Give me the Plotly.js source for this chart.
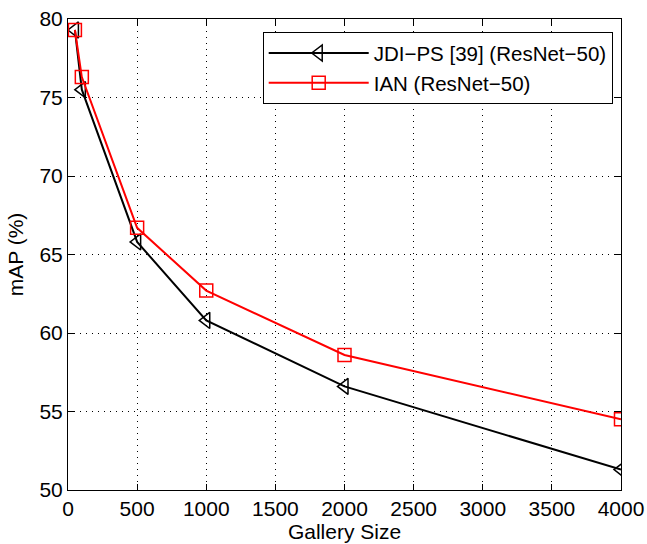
<!DOCTYPE html>
<html>
<head>
<meta charset="utf-8">
<script src="https://cdn.plot.ly/plotly-3.0.1.min.js"></script>
<style>html,body{margin:0;padding:0;background:#fff;}#chart{width:647px;height:544px;}</style>
</head>
<body>
<div id="chart"></div>
<script>
const gallerySize = [50, 100, 500, 1000, 2000, 4000];
const jdiMAP = [79.3, 75.5, 65.8, 60.8, 56.6, 51.3];
const ianMAP = [79.3, 76.3, 66.7, 62.7, 58.6, 54.5];
const seriesNames = ["JDI\u2212PS [39] (ResNet\u221250)", "IAN (ResNet\u221250)"];
const xTicks = [0, 500, 1000, 1500, 2000, 2500, 3000, 3500, 4000];
const yTicks = [50, 55, 60, 65, 70, 75, 80];

const font = {family: "Liberation Sans, Arial, sans-serif", size: 21, color: "#000"};
const legendFont = {family: "Liberation Sans, Arial, sans-serif", size: 20.5, color: "#000"};

const traces = [
  {x: gallerySize, y: jdiMAP, name: seriesNames[0], mode: "lines+markers", type: "scatter",
   line: {color: "#000", width: 2},
   marker: {symbol: "triangle-left-open", size: 14, color: "#000", line: {width: 1.5, color: "#000"}}},
  {x: gallerySize, y: ianMAP, name: seriesNames[1], mode: "lines+markers", type: "scatter",
   line: {color: "#ff0000", width: 2},
   marker: {symbol: "square-open", size: 13, color: "#ff0000", line: {width: 1.5, color: "#ff0000"}}}
];

const axisCommon = {
  showline: true, linecolor: "#000", linewidth: 1, mirror: "allticks",
  ticks: "inside", ticklen: 6, tickcolor: "#000", tickwidth: 1,
  showgrid: true, gridcolor: "#000", gridwidth: 1, griddash: "1px,5px",
  zeroline: false, tickfont: font
};

const layout = {
  width: 647, height: 544,
  margin: {l: 68, r: 26, t: 19, b: 54},
  paper_bgcolor: "#fff", plot_bgcolor: "#fff",
  font: font,
  showlegend: true,
  legend: {x: 0.985, y: 0.972, xanchor: "right", yanchor: "top",
           bordercolor: "#000", borderwidth: 1, bgcolor: "#fff",
           font: legendFont, tracegroupgap: 0, itemwidth: 100},
  xaxis: Object.assign({}, axisCommon, {
    range: [0, 4000], tickvals: xTicks, ticktext: xTicks.map(String),
    title: {text: "Gallery Size", font: font, standoff: 2}
  }),
  yaxis: Object.assign({}, axisCommon, {
    range: [50, 80], tickvals: yTicks, ticktext: yTicks.map(String),
    title: {text: "mAP (%)", font: font, standoff: 10}
  })
};

Plotly.newPlot("chart", traces, layout, {displayModeBar: false, staticPlot: true});
</script>
</body>
</html>
